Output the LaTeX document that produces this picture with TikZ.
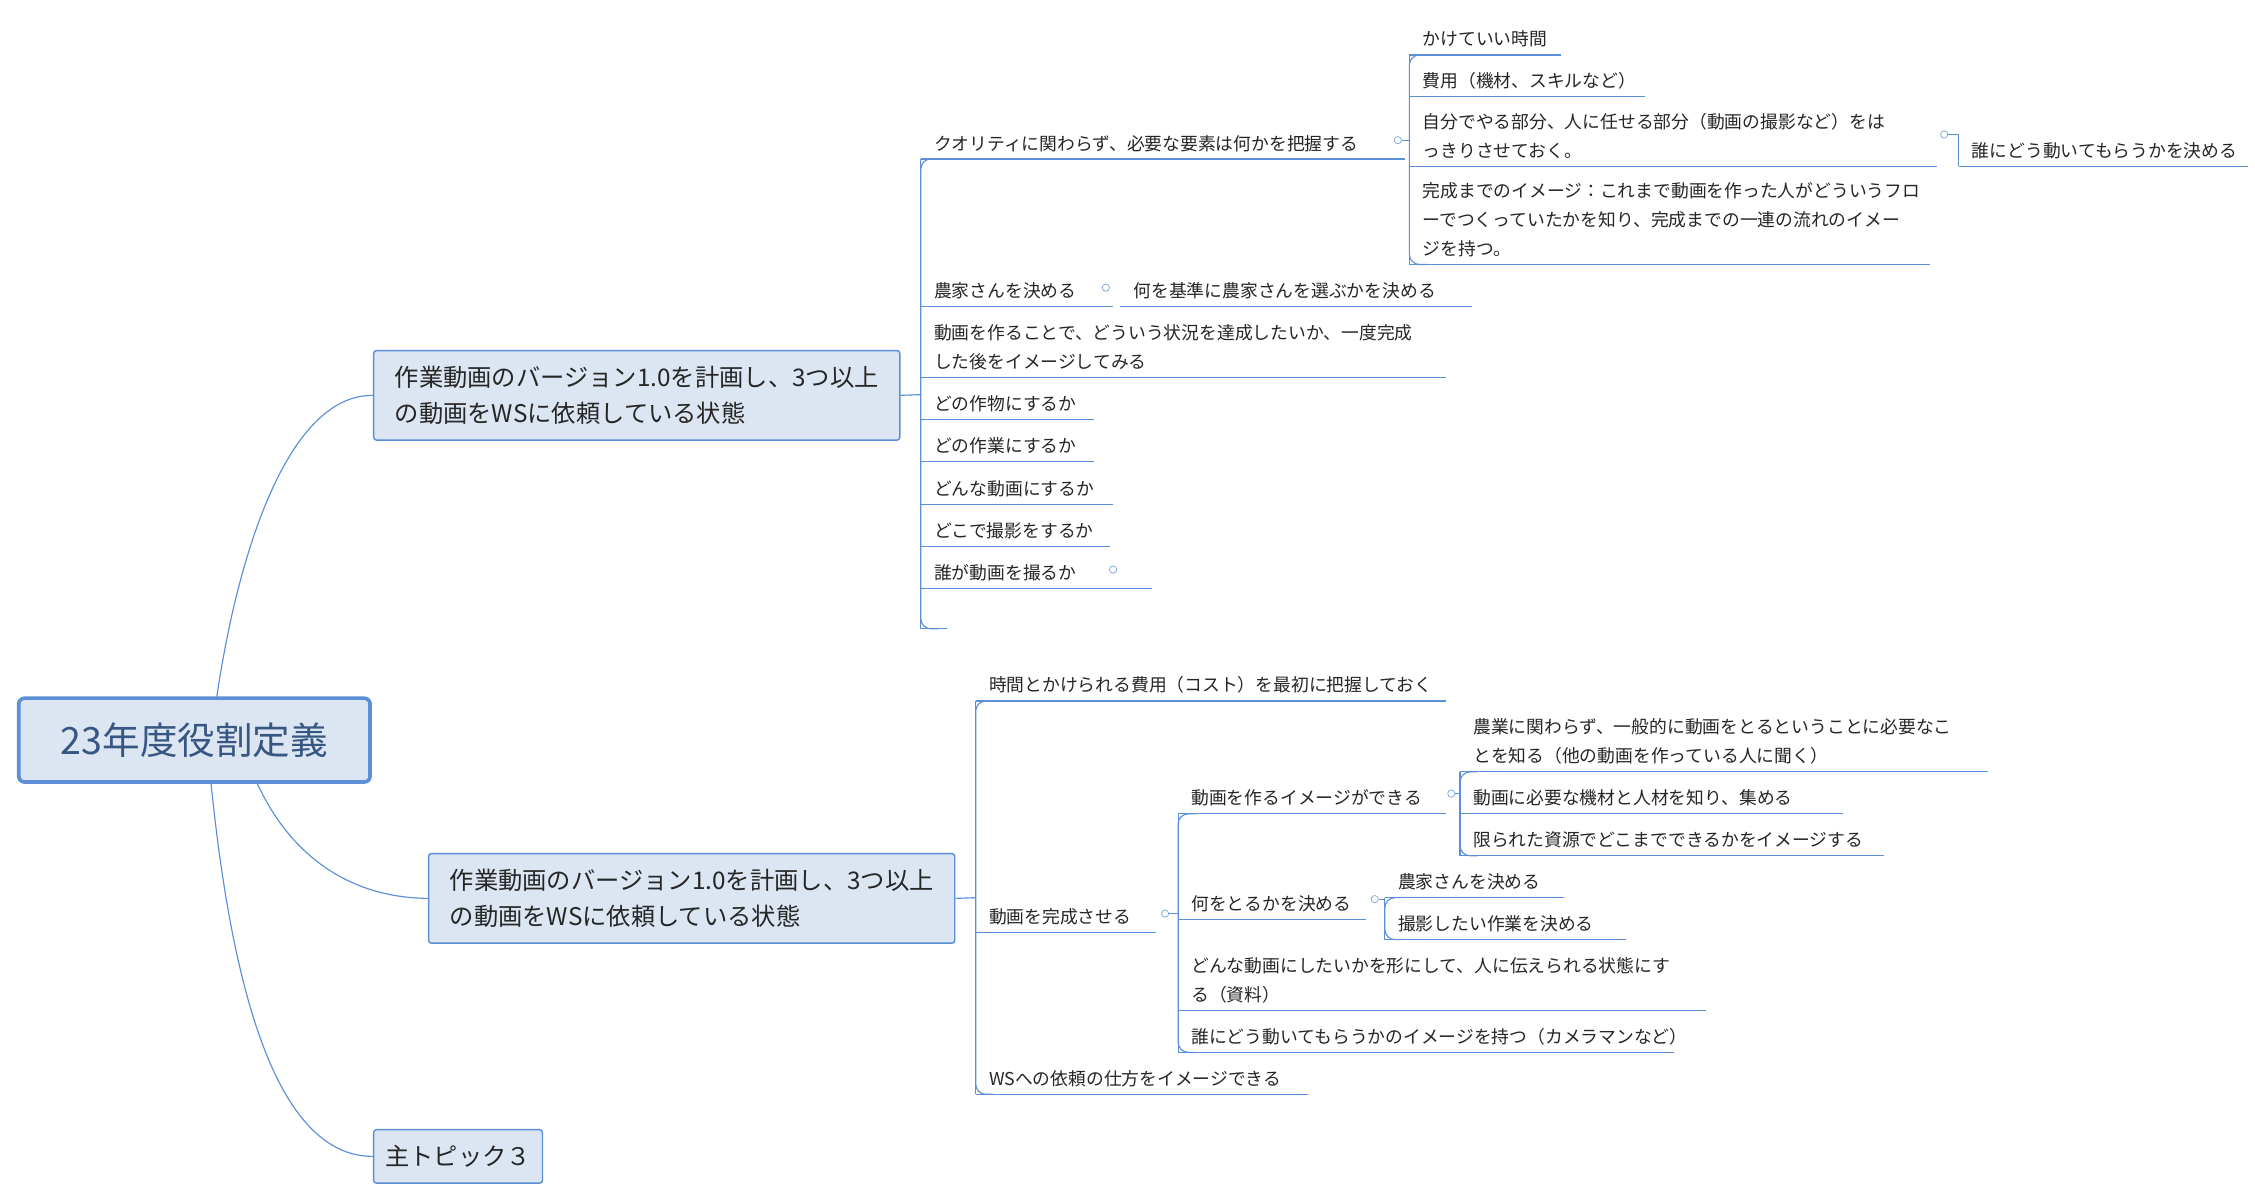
\documentclass[tikz,border=0pt]{standalone}
\usepackage{fontspec}
\setmainfont{Noto Sans CJK JP}
\begin{document}
\begin{tikzpicture}[x=1pt,y=-1pt,
  conn/.style={draw=lineblue,line width=0.8pt},
  leaftext/.style={font=\fontsize{12.3}{20}\selectfont,text=black!85,align=left,inner sep=0pt},
  topicbox/.style={draw=boxblue,fill=boxfill,rounded corners=2pt,line width=1pt,font=\fontsize{16.8}{25}\selectfont,text=black!85,align=left,inner xsep=8pt,inner ysep=5pt,anchor=north west},
  coll/.style={draw=lineblue!80,circle,inner sep=0pt,minimum size=5pt,line width=0.5pt}]
\definecolor{lineblue}{HTML}{5B8FD6}
\definecolor{boxblue}{HTML}{5B8FD6}
\definecolor{boxfill}{HTML}{DCE6F2}
\useasboundingbox (0,0) rectangle (1560,826);
\fill[white] (0,0) rectangle (1560,826);
\newcommand\leaf[5]{\node[leaftext,anchor=south west] (#1) at (#2+9,#4-5) {#5};\draw[conn] (#2,#4) -- (#3,#4);}
\newcommand\spine[4]{\draw[conn,rounded corners=7] (#1+12,#2) -- (#1,#2) -- (#1,#3) -- (#1+12,#3);\draw[conn] (#1,#2) -- (#1,#3);}
% root
\node[draw=boxblue,fill=boxfill,rounded corners=4pt,line width=2.5pt,minimum width=243pt,minimum height=58pt,font=\fontsize{26}{30}\selectfont,text=boxblue!60!black] (root) at (134.5,512) {23年度役割定義};
\node[topicbox,minimum width=364pt,minimum height=62pt] (t1) at (258,242) {作業動画のバージョン1.0を計画し、3つ以上\\の動画をWSに依頼している状態};
\node[topicbox,minimum width=364pt,minimum height=62pt] (t2) at (296,590) {作業動画のバージョン1.0を計画し、3つ以上\\の動画をWSに依頼している状態};
\node[topicbox,minimum width=109pt,minimum height=37pt] (t3) at (258,781) {主トピック３};
\draw[conn] (150,482) .. controls (165,380) and (200,273) .. (t1.west);
\draw[conn] (178,542) .. controls (200,590) and (240,621) .. (t2.west);
\draw[conn] (146,542) .. controls (160,680) and (190,800) .. (t3.west);
% T1 branch
\draw[conn] (t1.east) -- (637,273);
\spine{637}{110}{435}{}
\leaf{a1}{637}{972}{110}{クオリティに関わらず、必要な要素は何かを把握する}
\node[coll] (c1) at (967,97) {};
\draw[conn] (c1.east) -- (975,97);
\spine{975}{38}{183}{}
\leaf{a11}{975}{1080}{38}{かけていい時間}
\leaf{a12}{975}{1138}{67}{費用（機材、スキルなど）}
\leaf{a13}{975}{1340}{115}{自分でやる部分、人に任せる部分（動画の撮影など）をは\\っきりさせておく。}
\node[coll] (c13) at (1345,93) {};
\leaf{a131}{1355}{1555}{115}{誰にどう動いてもらうかを決める}
\draw[conn] (c13.east) -- (1355,93) -- (1355,115);
\leaf{a14}{975}{1335}{183}{完成までのイメージ：これまで動画を作った人がどういうフロ\\ーでつくっていたかを知り、完成までの一連の流れのイメー\\ジを持つ。}
\leaf{a2}{637}{770}{212}{農家さんを決める}
\node[coll] (c2) at (765,199) {};
\leaf{a21}{775}{1018}{212}{何を基準に農家さんを選ぶかを決める}
\leaf{a3}{637}{1000}{261}{動画を作ることで、どういう状況を達成したいか、一度完成\\した後をイメージしてみる}
\leaf{a4}{637}{757}{290}{どの作物にするか}
\leaf{a5}{637}{757}{319}{どの作業にするか}
\leaf{a6}{637}{770}{349}{どんな動画にするか}
\leaf{a7}{637}{768}{378}{どこで撮影をするか}
\leaf{a8}{637}{797}{407}{誰が動画を撮るか}
\node[coll] (c8) at (770,394) {};
\coordinate (a9) at (655,435);
\draw[conn] (637,435) -- (a9);
% T2 branch
\draw[conn] (t2.east) -- (675,621);
\spine{675}{485}{757}{}
\leaf{b1}{675}{1000}{485}{時間とかけられる費用（コスト）を最初に把握しておく}
\leaf{b2}{675}{800}{645}{動画を完成させる}
\node[coll] (d2) at (806,632) {};
\draw[conn] (d2.east) -- (815,632);
\spine{815}{563}{728}{}
\leaf{b21}{815}{1000}{563}{動画を作るイメージができる}
\node[coll] (d21) at (1004,549) {};
\draw[conn] (d21.east) -- (1010,549);
\spine{1010}{534}{592}{}
\leaf{b211}{1010}{1375}{534}{農業に関わらず、一般的に動画をとるということに必要なこ\\とを知る（他の動画を作っている人に聞く）}
\leaf{b212}{1010}{1275}{563}{動画に必要な機材と人材を知り、集める}
\leaf{b213}{1010}{1303}{592}{限られた資源でどこまでできるかをイメージする}
\leaf{b22}{815}{945}{636}{何をとるかを決める}
\node[coll] (d22) at (951,622) {};
\draw[conn] (d22.east) -- (958,622);
\spine{958}{621}{650}{}
\leaf{b221}{958}{1082}{621}{農家さんを決める}
\leaf{b222}{958}{1125}{650}{撮影したい作業を決める}
\leaf{b23}{815}{1180}{699}{どんな動画にしたいかを形にして、人に伝えられる状態にす\\る（資料）}
\leaf{b24}{815}{1158}{728}{誰にどう動いてもらうかのイメージを持つ（カメラマンなど）}
\leaf{b3}{675}{905}{757}{WSへの依頼の仕方をイメージできる}
\end{tikzpicture}
\end{document}
